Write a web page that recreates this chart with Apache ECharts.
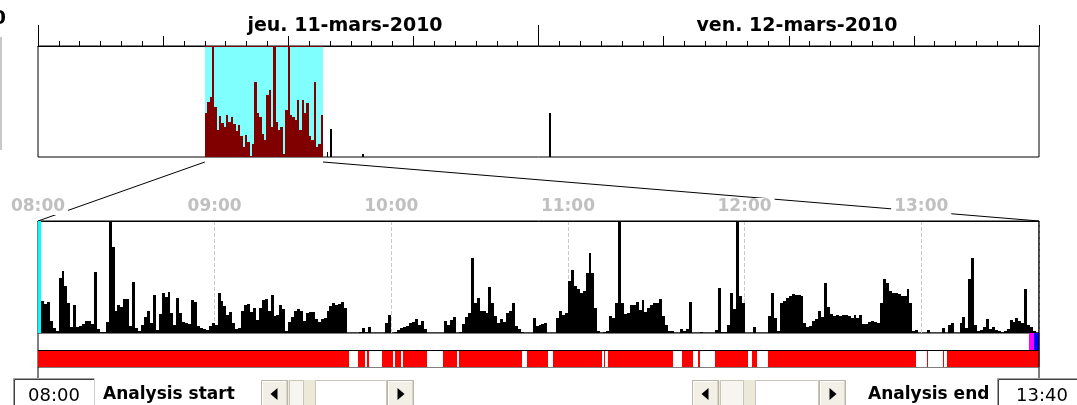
<!DOCTYPE html>
<html><head><meta charset="utf-8">
<script src="https://cdn.jsdelivr.net/npm/echarts@6/dist/echarts.min.js"></script>
<style>html,body{margin:0;padding:0;background:#fff;overflow:hidden}#c{width:1077px;height:405px}</style>
</head><body><div id="c"></div>
<script>
// ---------- data ----------
const dayLabels = ['jeu. 11-mars-2010', 'ven. 12-mars-2010'];
const detailHourLabels = ['08:00', '09:00', '10:00', '11:00', '12:00', '13:00'];
const analysisStartLabel = '08:00';
const analysisEndLabel = '13:40';
const startText = 'Analysis start';
const endText = 'Analysis end';
const overviewRangeHours = [0, 48];          // 11-mars 00:00 -> 13-mars 00:00
const selectionHours = [8, 13 + 40 / 60];     // 08:00 -> 13:40
const overviewBins = [44,55,60,111,50,27,41,34,30,42,35,40,33,26,32,21,10,22,15,1,
  13,75,44,40,23,17,62,67,30,111,35,27,30,3,47,111,42,40,37,57,
  27,57,44,54,21,17,75,10,13,42];
const overviewSpikes = [[13.85, 5], [14.0, 28], [15.55, 3], [24.5, 44]];
const detailMinutes = 340;
const detailValues = [
  46,32,29,31,12,5,2,55,62,47, 30,6,28,6,7,9,12,12,9,61,
  4,1,1,11,112,86,22,28,26,34, 34,7,51,5,2,8,16,22,10,38,
  3,19,40,36,41,20,8,35,20,11, 10,9,33,31,7,5,4,3,7,10,
  8,40,32,27,18,21,10,4,5,22, 28,29,21,25,13,25,33,34,22,38,
  17,18,28,24,2,11,16,22,24,22, 12,20,21,21,14,11,14,15,22,27,
  30,28,29,31,25,0,0,0,0,1, 5,1,6,0,0,0,0,0,10,18,
  0,1,3,5,6,7,10,11,14,8, 12,4,0,0,0,0,0,0,12,8,
  13,16,0,1,9,16,20,75,30,35, 22,22,20,46,30,17,10,14,11,20,
  22,30,7,4,1,0,0,0,15,7, 8,9,10,0,0,0,15,22,18,20,
  52,63,47,44,40,42,60,80,60,25, 2,0,1,2,17,15,30,112,30,19,
  20,28,28,31,23,33,21,25,28,30, 30,34,17,8,2,2,0,0,4,2,
  4,31,0,0,0,1,0,0,0,0, 3,45,1,1,8,40,24,112,37,30,
  0,0,0,6,0,0,0,0,17,40, 15,2,30,32,35,37,39,38,38,37,
  10,6,7,12,14,22,16,50,26,19, 17,18,17,18,18,17,15,18,15,18,
  9,9,11,12,11,10,30,54,50,42, 40,40,39,37,37,44,30,2,3,0,
  0,0,3,0,0,0,0,5,0,8, 10,0,0,10,16,5,54,75,8,2,
  3,6,14,4,6,3,2,1,2,4, 13,11,15,12,10,44,8,6,2,0
];
const statusGaps = [[105.6,108.7],[111.1,111.8],[112.4,116.8],[120.6,121.3],[123.3,124.0],
  [132.1,137.6],[142.3,143.0],[164.4,166.1],[173.2,174.9],[191.6,192.3],[192.6,193.6],
  [215.7,218.8],[222.5,224.2],[224.9,230.0],[241.2,242.5],[244.2,248.0],
  [298.2,302.0],[302.3,307.4],[307.7,308.8]];
const endMarkers = [[336.6, 338.3], [338.3, 340]];

// ---------- chart ----------
const FONT = "'DejaVu Sans', 'Liberation Sans', sans-serif";
const chart = echarts.init(document.getElementById('c'), null, {renderer: 'canvas'});

const binH = (selectionHours[1] - selectionHours[0]) / overviewBins.length;
const ovData = overviewBins.map((v, i) => [selectionHours[0] + i * binH, v, selectionHours[0] + (i + 1) * binH]);
const spikeW = 0.08;
const spikeData = overviewSpikes.map(([h, v]) => [h, v, h + spikeW]);
const detData = detailValues.map((v, i) => [i, v, i + 1]);

function barRender(color) {
  return function (params, api) {
    const p0 = api.coord([api.value(0), api.value(1)]);
    const p1 = api.coord([api.value(2), 0]);
    const x0 = Math.round(p0[0]), x1 = Math.round(p1[0]);
    const y0 = Math.round(p0[1]), y1 = Math.round(p1[1]);
    return {type: 'rect', shape: {x: x0, y: y0, width: Math.max(1, x1 - x0), height: y1 - y0}, style: {fill: color}};
  };
}

const ovGrid = {left: 38, top: 46, width: 1001, height: 111};
const option = {
  animation: false,
  backgroundColor: '#fff',
  grid: [
    Object.assign({show: true, borderColor: '#000', borderWidth: 1, backgroundColor: '#fff'}, ovGrid),
    {left: 38, top: 221, width: 1001, height: 112, show: true, borderColor: '#000', borderWidth: 1, backgroundColor: '#fff'},
    {left: 38, top: 333, width: 1001, height: 34, show: true, borderColor: '#000', borderWidth: 1, backgroundColor: '#fff'},
    Object.assign({show: false}, ovGrid)
  ],
  xAxis: [
    {gridIndex: 0, type: 'value', min: overviewRangeHours[0], max: overviewRangeHours[1], interval: 6, position: 'top',
      axisLine: {show: true, onZero: false, lineStyle: {color: '#000'}},
      axisTick: {show: true, inside: false, length: 10, lineStyle: {color: '#000'}},
      minorTick: {show: true, splitNumber: 6, length: 5, lineStyle: {color: '#000'}},
      axisLabel: {show: false}, splitLine: {show: false}, minorSplitLine: {show: false}},
    {gridIndex: 3, type: 'value', min: overviewRangeHours[0], max: overviewRangeHours[1], interval: 24, position: 'top',
      axisLine: {show: false, onZero: false}, axisTick: {show: true, inside: false, length: 21, lineStyle: {color: '#000'}},
      axisLabel: {show: false}, splitLine: {show: false}},
    {gridIndex: 1, type: 'value', min: 0, max: detailMinutes, interval: 60, position: 'top', z: 1,
      axisLine: {show: true, onZero: false, lineStyle: {color: '#000'}}, axisTick: {show: false},
      axisLabel: {show: true, showMinLabel: true, showMaxLabel: false, margin: 6,
        formatter: v => detailHourLabels[Math.round(v / 60)] || '',
        color: '#c0c0c0', fontFamily: FONT, fontWeight: 'bold', fontSize: 17,
        backgroundColor: '#fff', padding: [0, 3]},
      splitLine: {show: true, lineStyle: {color: '#c8c8c8', type: [4, 2], width: 1}}},
    {gridIndex: 2, type: 'value', min: 0, max: detailMinutes, show: false}
  ],
  yAxis: [
    {gridIndex: 0, type: 'value', min: 0, max: 111, show: false},
    {gridIndex: 1, type: 'value', min: 0, max: 112, show: false},
    {gridIndex: 2, type: 'value', min: 0, max: 2, show: false},
    {gridIndex: 3, type: 'value', min: 0, max: 111, show: false}
  ],
  series: [
    { // selection band on the overview
      type: 'custom', xAxisIndex: 0, yAxisIndex: 0, z: 2, silent: true,
      data: [[selectionHours[0], selectionHours[1]]],
      renderItem: (params, api) => {
        const a = api.coord([api.value(0), 111]), b = api.coord([api.value(1), 0]);
        const x0 = Math.round(a[0]), x1 = Math.round(b[0]);
        return {type: 'group', children: [
          {type: 'rect', shape: {x: x0, y: a[1], width: x1 - x0, height: b[1] - a[1]}, style: {fill: '#80ffff'}},
          {type: 'line', shape: {x1: x0, y1: a[1] + 0.5, x2: x1, y2: a[1] + 0.5}, style: {stroke: '#800000', lineWidth: 1}},
          {type: 'line', shape: {x1: x0, y1: b[1] - 0.5, x2: x1, y2: b[1] - 0.5}, style: {stroke: '#800000', lineWidth: 1}}
        ]};
      }
    },
    {type: 'custom', xAxisIndex: 0, yAxisIndex: 0, z: 3, silent: true, data: ovData, renderItem: barRender('#800000')},
    {type: 'custom', xAxisIndex: 0, yAxisIndex: 0, z: 3, silent: true, data: spikeData, renderItem: barRender('#000')},
    {type: 'custom', xAxisIndex: 2, yAxisIndex: 1, z: 3, silent: true, data: detData, renderItem: barRender('#000')},
    { // cyan start cursor
      type: 'custom', xAxisIndex: 2, yAxisIndex: 1, z: 4, silent: true, data: [[0]],
      renderItem: (params, api) => {
        const a = api.coord([0, 112]), b = api.coord([0, 0]);
        return {type: 'rect', shape: {x: Math.round(a[0]), y: a[1], width: 3, height: b[1] - a[1]}, style: {fill: '#00ffff'}};
      }
    },
    { // status strip
      type: 'custom', xAxisIndex: 3, yAxisIndex: 2, z: 3, silent: true, data: [[0, 0]],
      renderItem: (params, api) => {
        const xa = api.coord([0, 0])[0], xb = api.coord([detailMinutes, 0])[0];
        const yB = api.coord([0, 0])[1], yM = Math.round(api.coord([0, 1])[1]), yT = api.coord([0, 2])[1];
        const ch = [{type: 'rect', shape: {x: xa, y: yM, width: xb - xa, height: yB - yM}, style: {fill: '#ff0000'}}];
        statusGaps.forEach(([g0, g1]) => {
          const x0 = Math.round(api.coord([g0, 0])[0]), x1 = Math.round(api.coord([g1, 0])[0]);
          ch.push({type: 'rect', shape: {x: x0, y: yM, width: Math.max(1, x1 - x0), height: yB - yM}, style: {fill: '#fff'}});
        });
        const mc = ['#ff00ff', '#0000ff'];
        endMarkers.forEach(([m0, m1], k) => {
          const x0 = Math.round(api.coord([m0, 0])[0]), x1 = Math.round(api.coord([m1, 0])[0]);
          ch.push({type: 'rect', shape: {x: x0, y: yT, width: x1 - x0, height: yM - yT}, style: {fill: mc[k]}});
        });
        ch.push({type: 'line', shape: {x1: xa, y1: yM + 0.5, x2: xb, y2: yM + 0.5}, style: {stroke: '#000', lineWidth: 1}});
        return {type: 'group', children: ch};
      }
    }
  ]
};
chart.setOption(option);

// ---------- decorations (connectors, controls) ----------
const selL = chart.convertToPixel({xAxisIndex: 0, yAxisIndex: 0}, [selectionHours[0], 0]);
const selR = chart.convertToPixel({xAxisIndex: 0, yAxisIndex: 0}, [selectionHours[1], 0]);
const detL = chart.convertToPixel({xAxisIndex: 2, yAxisIndex: 1}, [0, 112]);
const detR = chart.convertToPixel({xAxisIndex: 2, yAxisIndex: 1}, [detailMinutes, 112]);
const stBot = chart.convertToPixel({xAxisIndex: 3, yAxisIndex: 2}, [0, 0]);

const g = [];
g.push({type: 'line', z: 0, shape: {x1: selL[0], y1: selL[1] + 5, x2: detL[0], y2: detL[1]}, style: {stroke: '#000', lineWidth: 1}});
g.push({type: 'line', z: 0, shape: {x1: selR[0], y1: selR[1] + 5, x2: detR[0], y2: detR[1]}, style: {stroke: '#000', lineWidth: 1}});
g.push({type: 'line', z: 5, shape: {x1: detR[0], y1: detR[1], x2: detR[0], y2: stBot[1] + 12}, style: {stroke: '#000', lineWidth: 1}});
g.push({type: 'line', z: 5, shape: {x1: detL[0], y1: stBot[1], x2: detL[0], y2: stBot[1] + 12}, style: {stroke: '#000', lineWidth: 1}});

// day labels
g.push({type: 'text', z: 5, x: 345, y: 26, style: {text: dayLabels[0], font: 'bold 19px ' + FONT, fill: '#000', align: 'center', verticalAlign: 'middle', textAlign: 'center', textVerticalAlign: 'middle'}});
g.push({type: 'text', z: 5, x: 797, y: 26, style: {text: dayLabels[1], font: 'bold 19px ' + FONT, fill: '#000', align: 'center', verticalAlign: 'middle', textAlign: 'center', textVerticalAlign: 'middle'}});
// cut-off left artefacts
g.push({type: 'text', z: 5, x: 6, y: 19, style: {text: '0', font: 'bold 19px ' + FONT, fill: '#000', align: 'right', verticalAlign: 'middle', textAlign: 'right', textVerticalAlign: 'middle'}});
g.push({type: 'rect', z: 5, shape: {x: 0, y: 37, width: 2, height: 113}, style: {fill: '#c8c8c8'}});

function txt(x, y, s, font, align) {
  return {type: 'text', z: 5, x, y, style: {text: s, font, fill: '#000', align, verticalAlign: 'middle', textAlign: align, textVerticalAlign: 'middle'}};
}
function sunkenBox(x, y, w, h, s) {
  return [
    {type: 'rect', z: 5, shape: {x, y, width: w, height: h}, style: {fill: '#fff'}},
    {type: 'polyline', z: 5, shape: {points: [[x + 0.5, y + h], [x + 0.5, y + 0.5], [x + w, y + 0.5]]}, style: {stroke: '#a0a0a0', lineWidth: 1, fill: null}},
    {type: 'polyline', z: 5, shape: {points: [[x + 1.5, y + h], [x + 1.5, y + 1.5], [x + w - 1, y + 1.5]]}, style: {stroke: '#404040', lineWidth: 1, fill: null}},
    {type: 'line', z: 5, shape: {x1: x + w - 0.5, y1: y, x2: x + w - 0.5, y2: y + h}, style: {stroke: '#d4d0c8', lineWidth: 1}},
    txt(x + w / 2, y + 18, s, '18px ' + FONT, 'center')
  ];
}
function button(x, y, w, h, dir) {
  const cx = x + w / 2, cy = y + 14;
  const pts = dir < 0 ? [[cx - 4, cy], [cx + 3, cy - 6], [cx + 3, cy + 6]] : [[cx + 4, cy], [cx - 3, cy - 6], [cx - 3, cy + 6]];
  return [
    {type: 'rect', z: 5, shape: {x: x + 0.5, y: y + 0.5, width: w - 1, height: h}, style: {fill: '#f1efe6', stroke: '#b9b6a8', lineWidth: 1}},
    {type: 'polyline', z: 5, shape: {points: [[x + 1.5, y + h], [x + 1.5, y + 1.5], [x + w - 1.5, y + 1.5]]}, style: {stroke: '#ffffff', lineWidth: 1, fill: null}},
    {type: 'line', z: 5, shape: {x1: x + w - 1.5, y1: y + 1, x2: x + w - 1.5, y2: y + h}, style: {stroke: '#d8d5c8', lineWidth: 1}},
    {type: 'polygon', z: 5, shape: {points: pts}, style: {fill: '#000'}}
  ];
}
function scrollbar(x0, x1, thumbA, thumbB, boxA) {
  const y = 380, h = 27;
  return [
    {type: 'rect', z: 5, shape: {x: x0, y, width: x1 - x0, height: h}, style: {fill: '#ece9d8'}},
    ...button(x0, y, 27, h, -1),
    {type: 'rect', z: 5, shape: {x: thumbA + 0.5, y: y + 0.5, width: thumbB - thumbA, height: h}, style: {fill: '#f6f5ef', stroke: '#c9c6b8', lineWidth: 1}},
    {type: 'rect', z: 5, shape: {x: boxA + 0.5, y: y + 0.5, width: x1 - 27 - boxA - 1, height: h}, style: {fill: '#fff', stroke: '#c9c6b8', lineWidth: 1}},
    ...button(x1 - 27, y, 27, h, 1)
  ];
}
g.push(...sunkenBox(13, 378, 82, 30, analysisStartLabel));
g.push(txt(103, 395, startText, 'bold 17px ' + FONT, 'left'));
g.push(...scrollbar(261, 414, 289, 303, 315));
g.push(...scrollbar(692, 846, 720, 743, 755));
g.push(txt(868, 395, endText, 'bold 17px ' + FONT, 'left'));
g.push(...sunkenBox(997, 378, 90, 30, analysisEndLabel));

chart.setOption({graphic: {elements: g}});
</script>
</body></html>
